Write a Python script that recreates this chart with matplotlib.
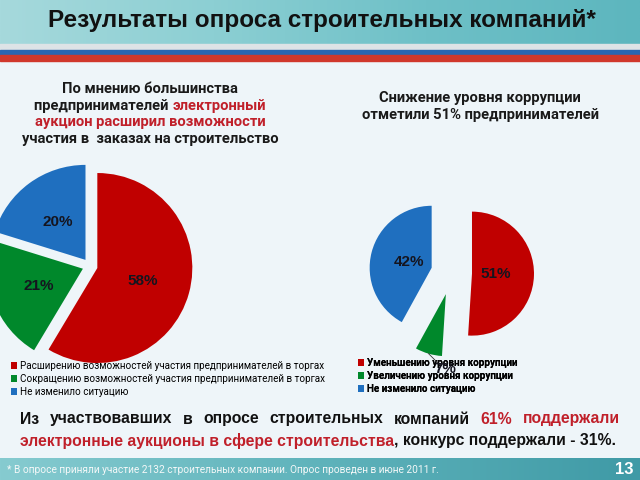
import numpy as np
import matplotlib.pyplot as plt
from matplotlib.colors import LinearSegmentedColormap

plt.rcParams['font.family'] = ['Liberation Sans', 'DejaVu Sans']

# ---- data ----
title = "Результаты опроса строительных компаний*"
left_labels = ["Расширению возможностей участия предпринимателей в торгах",
               "Сокращению возможностей участия предпринимателей в торгах",
               "Не изменило ситуацию"]
left_values = [58, 21, 20]
right_labels = ["Уменьшению уровня коррупции",
                "Увеличению уровня коррупции",
                "Не изменило ситуацию"]
right_values = [51, 7, 42]
colors = ["#c00000", "#00882b", "#1f6fbf"]
footnote = "* В опросе приняли участие 2132 строительных компании. Опрос проведен в июне 2011 г."
page = "13"

RED = "#c0202a"
H = 480


def Y(y):
    return H - y


fig = plt.figure(figsize=(6.4, 4.8), dpi=100)
fig.patch.set_facecolor("#eef5f9")
ax = fig.add_axes([0, 0, 1, 1])
r = fig.canvas.get_renderer()

# ---- slide background ----
head = LinearSegmentedColormap.from_list("h", ["#a6d9dc", "#8ccfd3", "#6ec0c7", "#5db6be"])
ax.imshow(np.linspace(0, 1, 256)[None, :], cmap=head, aspect="auto",
          extent=[0, 640, Y(44), Y(0)], zorder=0)
ax.axhspan(Y(50), Y(44), color="#dde3e6", zorder=1)
ax.axhspan(Y(55), Y(50), color="#2b66b1", zorder=1)
ax.axhspan(Y(61), Y(55), color="#d0382c", zorder=1)
foot = LinearSegmentedColormap.from_list("f", ["#86cbd0", "#5fb3bb", "#3f9aa6"])
ax.imshow(np.linspace(0, 1, 256)[None, :], cmap=foot, aspect="auto",
          extent=[0, 640, 0, Y(458)], zorder=0)

# ---- pies ----
tp = dict(fontsize=11, fontweight="bold", color="#15151f")
lw, lt, la = ax.pie(left_values, colors=colors, startangle=90, counterclock=False,
                    center=(90, Y(266)), radius=95, explode=[7.6] * 3,
                    autopct=lambda p: f"{p * sum(left_values) / 100:.0f}%",
                    pctdistance=0.5, textprops=tp, frame=True)
rw, rt, ra = ax.pie(right_values, colors=colors, startangle=90, counterclock=False,
                    center=(452, Y(273)), radius=62, explode=[20, 22, 21],
                    autopct=lambda p: f"{p * sum(right_values) / 100:.0f}%",
                    pctdistance=0.38, textprops=tp, frame=True)

# small green slice: label outside with a leader line
g = rw[1]
tm = np.deg2rad((g.theta1 + g.theta2) / 2)
ax0, ay0 = g.center[0] + g.r * np.cos(tm), g.center[1] + g.r * np.sin(tm)
ra[1].set_position((ax0 + 17, ay0 - 15))
ra[1].set_zorder(10)
ax.plot([ax0, ax0 + 9], [ay0, ay0 - 9], color="#333333", lw=0.6, zorder=9)

ax.set_xlim(0, 640)
ax.set_ylim(0, H)
ax.axis("off")

# ---- legends ----
lk = dict(frameon=False, handlelength=0.6, handleheight=0.6, handletextpad=0.3,
          borderpad=0, borderaxespad=0, labelspacing=0.3, loc="upper left",
          bbox_transform=ax.transData)
leg1 = ax.legend(lw, left_labels, bbox_to_anchor=(11, Y(361)),
                 prop=dict(family=["Roboto", "DejaVu Sans"], size=7.1), **lk)
ax.add_artist(leg1)
leg2 = ax.legend(rw, right_labels, bbox_to_anchor=(358, Y(358)),
                 prop=dict(family=["Roboto", "DejaVu Sans"], size=7.1, weight="bold"), **lk)
ax.add_artist(leg2)


# ---- text helpers ----
def line(parts, x, y, size, family, ha="center", width=None):
    arts = [ax.text(0, Y(y), s, color=c, fontsize=size, fontweight="bold",
                    family=family, va="center", ha="left", zorder=5) for s, c in parts]
    ws = [t.get_window_extent(r).width for t in arts]
    gap = 0
    if width is not None:
        gap = (width - sum(ws)) / (len(arts) - 1)
        x0 = x
    elif ha == "center":
        x0 = x - sum(ws) / 2
    else:
        x0 = x
    for t, w in zip(arts, ws):
        t.set_x(x0)
        x0 += w + gap


ax.text(322, Y(20), title, fontsize=17.5, fontweight="bold", ha="center", va="center",
        color="#111111", zorder=5)

sub = ["Roboto", "DejaVu Sans"]
line([("По мнению большинства", "#1a1a1a")], 150, 89, 10.6, sub)
line([("предпринимателей ", "#1a1a1a"), ("электронный", RED)], 150, 106, 10.6, sub)
line([("аукцион расширил возможности", RED)], 150, 122, 10.6, sub)
line([("участия в  заказах на строительство", "#1a1a1a")], 150, 139, 10.6, sub)
line([("Снижение уровня коррупции", "#1a1a1a")], 480, 98, 10.6, sub)
line([("отметили 51% предпринимателей", "#1a1a1a")], 480, 115, 10.6, sub)

words1 = [(w, "#111111") for w in "Из участвовавших в опросе строительных компаний".split()]
words1 += [(w, RED) for w in "61% поддержали".split()]
line(words1, 20, 419, 11.3, ["Liberation Sans", "DejaVu Sans"], width=600)
line([("электронные аукционы в сфере строительства", RED),
      (", конкурс поддержали - 31%.", "#111111")], 20, 441, 11.3,
     ["Liberation Sans", "DejaVu Sans"], ha="left")

ax.text(7, Y(470), footnote, fontsize=7.3, color="#f4f8f8", family=sub,
        ha="left", va="center", zorder=5)
ax.text(624, Y(469), page, fontsize=12, fontweight="bold", color="white",
        ha="center", va="center", zorder=5)

fig.savefig("out.png", dpi=100, facecolor=fig.get_facecolor())
